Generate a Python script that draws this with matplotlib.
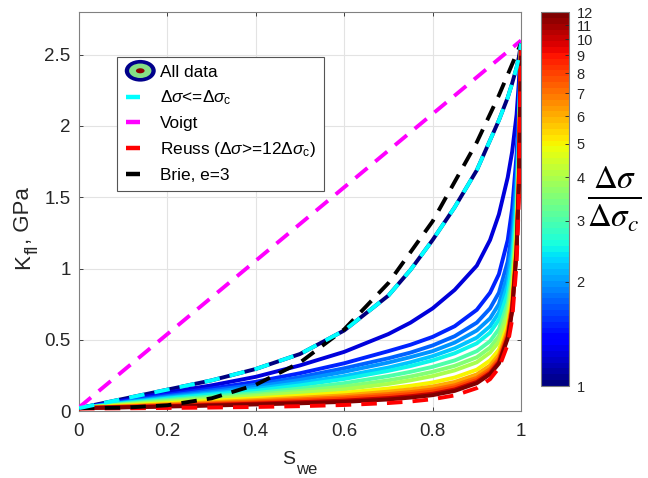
import matplotlib
matplotlib.use('Agg')
import matplotlib.pyplot as plt
from matplotlib.colors import LogNorm
from matplotlib.cm import ScalarMappable
from matplotlib.legend_handler import HandlerBase
from matplotlib.patches import Ellipse
from matplotlib.lines import Line2D
from matplotlib.ticker import FormatStrFormatter

plt.rcParams['font.family'] = ['Liberation Sans', 'DejaVu Sans']
plt.rcParams['mathtext.fontset'] = 'custom'
plt.rcParams['mathtext.rm'] = 'Liberation Sans'
plt.rcParams['mathtext.it'] = 'Liberation Sans:italic'
plt.rcParams['mathtext.bf'] = 'Liberation Sans:bold'

# ---------------- data ----------------
s_grid = [0, 0.1, 0.2, 0.3, 0.4, 0.5, 0.6, 0.7, 0.75, 0.8, 0.85, 0.9,
          0.93, 0.95, 0.97, 0.98, 0.99, 0.995, 1.0]

ratios = [1, 1.25, 1.5, 1.75, 2, 2.25, 2.5, 3, 3.5, 4, 5, 6, 7, 8, 10, 12]

k_r1    = [0.02, 0.085, 0.15, 0.215, 0.295, 0.40, 0.565, 0.81, 0.99, 1.20, 1.43, 1.69, 1.90, 2.04, 2.20, 2.30, 2.41, 2.48, 2.58]
k_r1_25 = [0.02, 0.075, 0.13, 0.18, 0.24, 0.32, 0.415, 0.54, 0.62, 0.72, 0.85, 1.02, 1.20, 1.38, 1.64, 1.82, 2.08, 2.30, 2.58]
k_r1_5  = [0.02, 0.068, 0.115, 0.158, 0.205, 0.265, 0.335, 0.42, 0.465, 0.52, 0.595, 0.71, 0.83, 0.96, 1.20, 1.42, 1.80, 2.12, 2.58]
k_r1_75 = [0.02, 0.063, 0.105, 0.145, 0.185, 0.238, 0.30, 0.37, 0.41, 0.46, 0.525, 0.62, 0.72, 0.83, 1.05, 1.27, 1.67, 2.03, 2.58]
k_r2    = [0.02, 0.06, 0.098, 0.133, 0.17, 0.218, 0.275, 0.34, 0.378, 0.42, 0.48, 0.565, 0.65, 0.75, 0.96, 1.17, 1.58, 1.97, 2.58]
k_r2_25 = [0.02, 0.057, 0.092, 0.123, 0.155, 0.197, 0.245, 0.305, 0.342, 0.385, 0.44, 0.515, 0.595, 0.69, 0.89, 1.10, 1.50, 1.92, 2.58]
k_r2_5  = [0.02, 0.054, 0.087, 0.115, 0.142, 0.18, 0.225, 0.282, 0.315, 0.355, 0.405, 0.475, 0.55, 0.64, 0.83, 1.03, 1.44, 1.87, 2.58]
k_r3    = [0.02, 0.05, 0.078, 0.102, 0.126, 0.158, 0.195, 0.245, 0.275, 0.31, 0.355, 0.42, 0.49, 0.575, 0.76, 0.95, 1.36, 1.81, 2.58]
k_r3_5  = [0.02, 0.046, 0.07, 0.092, 0.114, 0.141, 0.172, 0.215, 0.242, 0.275, 0.317, 0.377, 0.445, 0.525, 0.71, 0.90, 1.30, 1.76, 2.58]
k_r4    = [0.02, 0.043, 0.064, 0.084, 0.104, 0.127, 0.152, 0.19, 0.215, 0.245, 0.285, 0.342, 0.41, 0.485, 0.67, 0.86, 1.26, 1.72, 2.58]
k_r5    = [0.02, 0.038, 0.055, 0.072, 0.089, 0.107, 0.128, 0.158, 0.177, 0.20, 0.235, 0.29, 0.355, 0.43, 0.61, 0.80, 1.20, 1.66, 2.58]
k_r6    = [0.02, 0.034, 0.048, 0.062, 0.077, 0.093, 0.11, 0.136, 0.152, 0.172, 0.204, 0.257, 0.32, 0.395, 0.575, 0.765, 1.17, 1.63, 2.58]
k_r7    = [0.02, 0.031, 0.042, 0.055, 0.068, 0.082, 0.097, 0.119, 0.133, 0.151, 0.181, 0.233, 0.295, 0.37, 0.55, 0.74, 1.15, 1.61, 2.58]
k_r8    = [0.02, 0.029, 0.038, 0.049, 0.06, 0.072, 0.086, 0.106, 0.119, 0.137, 0.166, 0.218, 0.28, 0.355, 0.535, 0.725, 1.14, 1.60, 2.58]
k_r10   = [0.02, 0.027, 0.034, 0.043, 0.052, 0.062, 0.073, 0.091, 0.104, 0.121, 0.151, 0.204, 0.267, 0.342, 0.52, 0.71, 1.13, 1.59, 2.58]
k_r12   = [0.02, 0.025, 0.031, 0.038, 0.046, 0.054, 0.064, 0.081, 0.094, 0.111, 0.141, 0.195, 0.258, 0.333, 0.51, 0.70, 1.12, 1.58, 2.58]

family = [k_r1, k_r1_25, k_r1_5, k_r1_75, k_r2, k_r2_25, k_r2_5, k_r3, k_r3_5,
          k_r4, k_r5, k_r6, k_r7, k_r8, k_r10, k_r12]

reuss_k = [0.017, 0.0189, 0.0212, 0.0242, 0.0282, 0.0338, 0.0421, 0.0558, 0.0667, 0.0828,
           0.1093, 0.1605, 0.2233, 0.3022, 0.467, 0.6425, 1.029, 1.47, 2.58]

voigt_s = [0, 1]
voigt_k = [0.025, 2.6]

brie_s = [0, 0.1, 0.2, 0.3, 0.4, 0.5, 0.6, 0.7, 0.8, 0.9, 0.95, 1.0]
brie_k = [0.02, 0.023, 0.04, 0.089, 0.184, 0.34, 0.573, 0.898, 1.331, 1.886, 2.215, 2.58]

cbar_ticks = [1, 2, 3, 4, 5, 6, 7, 8, 9, 10, 11, 12]

legend_labels = ['All data', r'$\Delta\sigma$<=$\Delta\sigma_{\rm c}$', 'Voigt',
                 r'Reuss ($\Delta\sigma$>=12$\Delta\sigma_{\rm c}$)', 'Brie, e=3']

TXT = '#262626'

# ---------------- figure ----------------
W, H = 648, 478
fig = plt.figure(figsize=(W / 100, H / 100), dpi=100)
ax = fig.add_axes([79 / W, 1 - 411 / H, 442 / W, 399 / H])

cmap = plt.get_cmap('jet', 64)
norm = LogNorm(vmin=1, vmax=12)

for r, k in zip(ratios, family):
    ax.plot(s_grid, k, color=cmap(norm(r)), lw=2.8, solid_capstyle='butt',
            solid_joinstyle='round', zorder=3)

dash = (4.0, 2.6)
ax.plot(voigt_s, voigt_k, color='#ff00ff', lw=2.8, dashes=dash, zorder=4)
ax.plot(s_grid, reuss_k, color='#ff0000', lw=2.8, dashes=dash, zorder=4)
ax.plot(brie_s, brie_k, color='black', lw=2.8, dashes=dash, zorder=5)
ax.plot(s_grid, k_r1, color='#00ffff', lw=2.8, dashes=dash, zorder=5)

ax.set_xlim(0, 1)
ax.set_ylim(0, 2.8)
ax.set_xticks([0, 0.2, 0.4, 0.6, 0.8, 1])
ax.set_yticks([0, 0.5, 1, 1.5, 2, 2.5])
ax.xaxis.set_major_formatter(FormatStrFormatter('%g'))
ax.yaxis.set_major_formatter(FormatStrFormatter('%g'))
ax.tick_params(direction='in', length=3, width=0.6, colors=TXT,
               labelsize=13.5, top=True, right=True)
ax.tick_params(axis='y', pad=6)
ax.tick_params(axis='x', pad=9)
ax.grid(True, color='#e3e3e3', lw=0.8)
ax.set_axisbelow(True)
for sp in ax.spines.values():
    sp.set_color('#808080')
    sp.set_linewidth(0.8)

# x label: S with subscript "we"
fig.text(282.5 / W, 1 - 464.5 / H, 'S', fontsize=14, color=TXT, ha='left', va='baseline')
fig.text(296.5 / W, 1 - 474 / H, 'we', fontsize=12, color=TXT, ha='left', va='baseline')

# y label: K with subscript "fl", then ", GPa" (rotated)
renderer = fig.canvas.get_renderer()
parts = [('K', 16, 0.0), ('fl', 13.5, 9.0), (', GPa', 16, 0.0)]
ytexts, ylens = [], []
for s, fs, dx in parts:
    t = fig.text(0, 0, s, fontsize=fs, color=TXT, rotation=90,
                 rotation_mode='anchor', ha='left', va='baseline')
    ylens.append(t.get_window_extent(renderer).height)
    ytexts.append(t)
ypix = 228 + sum(ylens) / 2
for t, ln, (s, fs, dx) in zip(ytexts, ylens, parts):
    t.set_position(((29 + dx) / W, 1 - ypix / H))
    ypix -= ln


# ---------------- legend ----------------
class RingsHandler(HandlerBase):
    def create_artists(self, legend, orig_handle, xdescent, ydescent,
                       width, height, fontsize, trans):
        cx = width / 2 - xdescent
        cy = height / 2 - ydescent
        arts = []
        for w, h, fc in [(width * 1.0, height * 1.8, '#00008b'),
                         (width * 0.72, height * 1.2, '#86e086'),
                         (width * 0.28, height * 0.42, '#8b0000')]:
            arts.append(Ellipse((cx, cy), w, h, facecolor=fc, edgecolor='none',
                                transform=trans))
        return arts


class ShortLineHandler(HandlerBase):
    def create_artists(self, legend, orig_handle, xdescent, ydescent,
                       width, height, fontsize, trans):
        cy = height / 2 - ydescent
        ln = Line2D([width * 0.04 - xdescent, width * 0.5 - xdescent], [cy, cy],
                    color=orig_handle.get_color(), lw=3.2, solid_capstyle='butt',
                    transform=trans)
        return [ln]


rings = Ellipse((0, 0), 1, 1)
h_cyan = Line2D([], [], color='#00ffff')
h_mag = Line2D([], [], color='#ff00ff')
h_red = Line2D([], [], color='#ff0000')
h_blk = Line2D([], [], color='black')
leg = ax.legend([rings, h_cyan, h_mag, h_red, h_blk], legend_labels,
                handler_map={Ellipse: RingsHandler(), Line2D: ShortLineHandler()},
                loc='upper left', bbox_to_anchor=(38 / 442, 1 - 45 / 399),
                borderaxespad=0, fontsize=12.4,
                handlelength=1.8, handletextpad=0.25, labelspacing=0.52,
                borderpad=0.45, fancybox=False, framealpha=1, edgecolor='#555555')
leg.get_frame().set_linewidth(0.8)
leg.set_zorder(10)

# ---------------- colorbar ----------------
cax = fig.add_axes([541 / W, 1 - 386 / H, 28 / W, (386 - 12) / H])
sm = ScalarMappable(norm=norm, cmap=cmap)
cb = fig.colorbar(sm, cax=cax)
cb.set_ticks(cbar_ticks)
cb.set_ticklabels([str(t) for t in cbar_ticks])
cb.minorticks_off()
cax.tick_params(direction='in', length=3, width=0.6, colors=TXT, labelsize=10.5, pad=5.5)
cb.outline.set_edgecolor('#808080')
cb.outline.set_linewidth(0.8)

fig.text(0.947, 0.585, r'$\frac{\Delta\sigma}{\Delta\sigma_c}$', fontsize=34,
         ha='center', va='center', math_fontfamily='stix')

fig.savefig('out.png', dpi=100)
